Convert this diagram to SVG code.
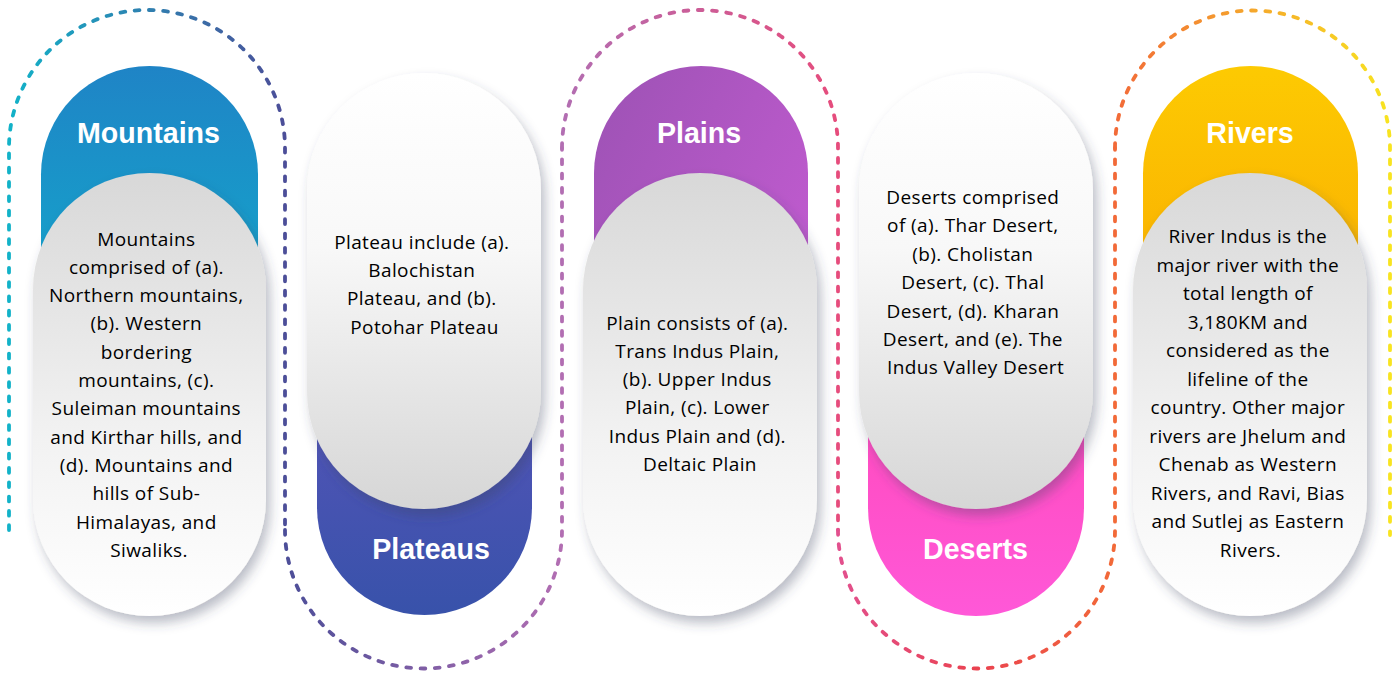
<svg xmlns="http://www.w3.org/2000/svg" width="1399" height="674" viewBox="0 0 1399 674">
<defs>
<style>
.title{font-family:"Liberation Sans",Arial,sans-serif;font-weight:bold;font-size:28.6px;fill:#ffffff;text-anchor:middle}
.body{font-family:"Open Sans","Noto Sans",sans-serif;font-size:19px;letter-spacing:0.4px;fill:#000000;text-anchor:middle}
.dash{fill:none;stroke-width:3.8;stroke-linecap:round;stroke-dasharray:4.8 9.5}
</style>
<linearGradient id="gM" x1="0" y1="0" x2="0" y2="1"><stop offset="0" stop-color="#1f84c6"/><stop offset="0.6" stop-color="#14a6cb"/><stop offset="1" stop-color="#10b4cc"/></linearGradient>
<linearGradient id="gPt" x1="0" y1="0" x2="0" y2="1"><stop offset="0" stop-color="#6a56c2"/><stop offset="1" stop-color="#3852aa"/></linearGradient>
<linearGradient id="gPl" x1="0" y1="0" x2="1" y2="1"><stop offset="0" stop-color="#9c52b4"/><stop offset="1" stop-color="#cc5ed8"/></linearGradient>
<linearGradient id="gD" x1="0" y1="0" x2="0" y2="1"><stop offset="0" stop-color="#ff3ea6"/><stop offset="1" stop-color="#ff58d8"/></linearGradient>
<linearGradient id="gR" x1="0" y1="0" x2="0" y2="1"><stop offset="0" stop-color="#fdca02"/><stop offset="1" stop-color="#f89c00"/></linearGradient>
<linearGradient id="wB" x1="0" y1="0" x2="0" y2="1"><stop offset="0" stop-color="#d8d8d8"/><stop offset="0.6" stop-color="#f2f2f2"/><stop offset="1" stop-color="#ffffff"/></linearGradient>
<linearGradient id="wT" x1="0" y1="0" x2="0" y2="1"><stop offset="0" stop-color="#ffffff"/><stop offset="0.4" stop-color="#f8f8f8"/><stop offset="1" stop-color="#d6d6d6"/></linearGradient>
<linearGradient id="d1" gradientUnits="userSpaceOnUse" x1="9" y1="0" x2="285" y2="0"><stop offset="0" stop-color="#12b2c8"/><stop offset="1" stop-color="#4c4e98"/></linearGradient>
<linearGradient id="d2" gradientUnits="userSpaceOnUse" x1="285" y1="0" x2="562" y2="0"><stop offset="0" stop-color="#4c4e98"/><stop offset="1" stop-color="#b26eb2"/></linearGradient>
<linearGradient id="d3" gradientUnits="userSpaceOnUse" x1="562" y1="0" x2="838" y2="0"><stop offset="0" stop-color="#b26eb2"/><stop offset="1" stop-color="#e64c7c"/></linearGradient>
<linearGradient id="d4" gradientUnits="userSpaceOnUse" x1="838" y1="0" x2="1115" y2="0"><stop offset="0" stop-color="#e2508e"/><stop offset="0.5" stop-color="#ea4250"/><stop offset="1" stop-color="#f26a38"/></linearGradient>
<linearGradient id="d5" gradientUnits="userSpaceOnUse" x1="1115" y1="0" x2="1390" y2="0"><stop offset="0" stop-color="#f26a38"/><stop offset="1" stop-color="#f8e420"/></linearGradient>
<filter id="sh" x="-20%" y="-10%" width="150%" height="130%"><feDropShadow dx="4" dy="7" stdDeviation="6" flood-color="#3a3f60" flood-opacity="0.35"/></filter>
</defs>

<g id="connectors">
<path class="dash" stroke="url(#d1)" d="M9 530 V148 A138 138 0 0 1 285 148 V530"/>
<path class="dash" stroke="url(#d2)" d="M285 530 A138.5 138.5 0 0 0 562 530 V148"/>
<path class="dash" stroke="url(#d3)" d="M562 148 A138 138 0 0 1 838 148 V530"/>
<path class="dash" stroke="url(#d4)" d="M838 530 A138.5 138.5 0 0 0 1115 530 V148"/>
<path class="dash" stroke="url(#d5)" d="M1115 148 A137.5 137.5 0 0 1 1390 148 V535"/>
</g>

<g id="mountains">
<rect x="41" y="66" width="217" height="400" rx="108.5" fill="url(#gM)"/>
<text class="title" x="148.5" y="143">Mountains</text>
<rect x="33" y="173" width="233" height="443" rx="116.5" fill="url(#wB)" filter="url(#sh)"/>
<text class="body" x="149">
<tspan x="149" y="245.5">Mountains</tspan>
<tspan x="149" y="273.8">comprised of (a).</tspan>
<tspan x="149" y="302.1">Northern mountains,</tspan>
<tspan x="149" y="330.4">(b). Western</tspan>
<tspan x="149" y="358.7">bordering</tspan>
<tspan x="149" y="387">mountains, (c).</tspan>
<tspan x="149" y="415.3">Suleiman mountains</tspan>
<tspan x="149" y="443.6">and Kirthar hills, and</tspan>
<tspan x="149" y="471.9">(d). Mountains and</tspan>
<tspan x="149" y="500.2">hills of Sub-</tspan>
<tspan x="149" y="528.5">Himalayas, and</tspan>
<tspan x="149" y="556.8">Siwaliks.</tspan>
</text>
</g>

<g id="plateaus">
<rect x="317" y="215" width="215" height="400" rx="107.5" fill="url(#gPt)"/>
<text class="title" x="431" y="559">Plateaus</text>
<rect x="307" y="73" width="234" height="436" rx="117" fill="url(#wT)" filter="url(#sh)"/>
<text class="body" x="424.5">
<tspan x="424.5" y="249">Plateau include (a).</tspan>
<tspan x="424.5" y="277.2">Balochistan</tspan>
<tspan x="424.5" y="305.4">Plateau, and (b).</tspan>
<tspan x="424.5" y="333.6">Potohar Plateau</tspan>
</text>
</g>

<g id="plains">
<rect x="594" y="66" width="214" height="400" rx="107" fill="url(#gPl)"/>
<text class="title" x="699" y="143">Plains</text>
<rect x="583" y="173" width="234" height="443" rx="117" fill="url(#wB)" filter="url(#sh)"/>
<text class="body" x="700">
<tspan x="700" y="329.7">Plain consists of (a).</tspan>
<tspan x="700" y="357.9">Trans Indus Plain,</tspan>
<tspan x="700" y="386.1">(b). Upper Indus</tspan>
<tspan x="700" y="414.3">Plain, (c). Lower</tspan>
<tspan x="700" y="442.5">Indus Plain and (d).</tspan>
<tspan x="700" y="470.7">Deltaic Plain</tspan>
</text>
</g>

<g id="deserts">
<rect x="868" y="216" width="216" height="400" rx="108" fill="url(#gD)"/>
<text class="title" x="975.5" y="558.5">Deserts</text>
<rect x="859" y="73" width="234" height="436" rx="117" fill="url(#wT)" filter="url(#sh)"/>
<text class="body" x="975.5">
<tspan x="975.5" y="204">Deserts comprised</tspan>
<tspan x="975.5" y="232.4">of (a). Thar Desert,</tspan>
<tspan x="975.5" y="260.8">(b). Cholistan</tspan>
<tspan x="975.5" y="289.2">Desert, (c). Thal</tspan>
<tspan x="975.5" y="317.6">Desert, (d). Kharan</tspan>
<tspan x="975.5" y="346">Desert, and (e). The</tspan>
<tspan x="975.5" y="374.4">Indus Valley Desert</tspan>
</text>
</g>

<g id="rivers">
<rect x="1143" y="66" width="215" height="400" rx="107.5" fill="url(#gR)"/>
<text class="title" x="1250" y="143">Rivers</text>
<rect x="1133" y="173" width="234" height="443" rx="117" fill="url(#wB)" filter="url(#sh)"/>
<text class="body" x="1250.5">
<tspan x="1250.5" y="243.3">River Indus is the</tspan>
<tspan x="1250.5" y="271.8">major river with the</tspan>
<tspan x="1250.5" y="300.3">total length of</tspan>
<tspan x="1250.5" y="328.8">3,180KM and</tspan>
<tspan x="1250.5" y="357.3">considered as the</tspan>
<tspan x="1250.5" y="385.8">lifeline of the</tspan>
<tspan x="1250.5" y="414.3">country. Other major</tspan>
<tspan x="1250.5" y="442.8">rivers are Jhelum and</tspan>
<tspan x="1250.5" y="471.3">Chenab as Western</tspan>
<tspan x="1250.5" y="499.8">Rivers, and Ravi, Bias</tspan>
<tspan x="1250.5" y="528.3">and Sutlej as Eastern</tspan>
<tspan x="1250.5" y="556.8">Rivers.</tspan>
</text>
</g>
</svg>
